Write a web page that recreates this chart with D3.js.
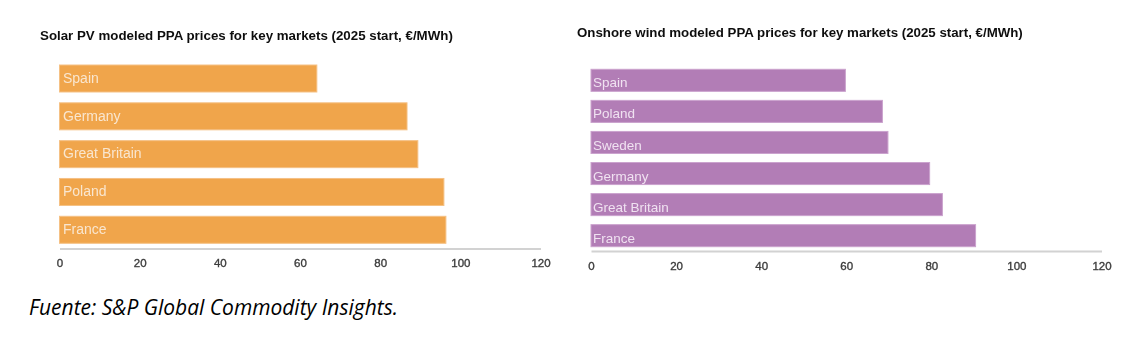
<!DOCTYPE html>
<html>
<head>
<meta charset="utf-8">
<script src="https://cdn.jsdelivr.net/npm/d3@7"></script>
<style>
  html, body { margin: 0; padding: 0; background: #fff; }
  svg { display: block; }
</style>
</head>
<body>
<svg id="chart" width="1148" height="350"></svg>
<script>
// Modeled PPA prices, 2025 start, €/MWh
const solarMarkets = ["Spain", "Germany", "Great Britain", "Poland", "France"];
const solarPrices  = [64.2, 86.7, 89.4, 95.9, 96.4];

const windMarkets = ["Spain", "Poland", "Sweden", "Germany", "Great Britain", "France"];
const windPrices  = [59.8, 68.5, 69.8, 79.6, 82.6, 90.4];

const xTicks = [0, 20, 40, 60, 80, 100, 120];

const solarTitle = "Solar PV modeled PPA prices for key markets (2025 start, €/MWh)";
const windTitle  = "Onshore wind modeled PPA prices for key markets (2025 start, €/MWh)";
const sourceNote = "Fuente: S&P Global Commodity Insights.";

const svg = d3.select("#chart");

// soft focus applied to the chart panels
const defs = svg.append("defs");
defs.append("filter").attr("id", "soft")
  .attr("x", "-5%").attr("y", "-5%").attr("width", "110%").attr("height", "110%")
  .append("feGaussianBlur").attr("stdDeviation", 0.6);

// set a text's font size so it spans the given width
function fitWidth(sel, width) {
  const node = sel.node();
  const base = parseFloat(sel.attr("font-size"));
  const w = node.getComputedTextLength();
  sel.attr("font-size", (base * width / w).toFixed(2));
}

function drawPanel(cfg) {
  const g = svg.append("g").attr("filter", "url(#soft)");

  const x = d3.scaleLinear().domain([0, 120]).range(cfg.xRange);
  const y = d3.scaleBand()
    .domain(cfg.markets)
    .range(cfg.yRange)
    .paddingInner(cfg.padInner)
    .paddingOuter(0);

  const rows = cfg.markets.map((m, i) => ({ market: m, value: cfg.values[i] }));

  // title
  const t = g.append("text")
    .attr("x", cfg.titleX)
    .attr("y", cfg.titleY)
    .attr("dominant-baseline", "middle")
    .attr("font-family", "Liberation Sans, Arial, sans-serif")
    .attr("font-weight", "bold")
    .attr("font-size", 12.5)
    .attr("fill", "#111")
    .text(cfg.title);
  fitWidth(t, cfg.titleWidth);

  // bars
  g.selectAll("rect.bar").data(rows).join("rect")
    .attr("class", "bar")
    .attr("x", x(0))
    .attr("y", d => y(d.market))
    .attr("width", d => x(d.value) - x(0))
    .attr("height", y.bandwidth())
    .attr("fill", cfg.color)
    .attr("stroke", cfg.rim)
    .attr("stroke-width", 1);

  // category labels inside the bars
  g.selectAll("text.cat").data(rows).join("text")
    .attr("class", "cat")
    .attr("x", x(0) + cfg.labelDx)
    .attr("y", d => y(d.market) + y.bandwidth() / 2 + cfg.labelDy)
    .attr("dominant-baseline", "middle")
    .attr("font-family", "Liberation Sans, Arial, sans-serif")
    .attr("font-size", cfg.labelSize)
    .attr("fill", cfg.labelColor)
    .text(d => d.market);

  // baseline axis
  const axis = d3.axisBottom(x).tickValues(xTicks).tickSize(0).tickPadding(0).tickFormat(d3.format("d"));
  const ax = g.append("g")
    .attr("transform", `translate(0,${cfg.axisY})`)
    .call(axis);
  ax.select(".domain")
    .attr("stroke", "#d2d2d2")
    .attr("stroke-width", 2);
  ax.selectAll(".tick text")
    .attr("y", cfg.tickDy)
    .attr("dy", null)
    .attr("dominant-baseline", "middle")
    .attr("font-family", "Liberation Sans, Arial, sans-serif")
    .attr("font-size", 11.5)
    .attr("fill", "#3c3c3c")
    .attr("stroke", "#3c3c3c")
    .attr("stroke-width", 0.35);
}

drawPanel({
  title: solarTitle, titleX: 40, titleY: 36, titleWidth: 413,
  markets: solarMarkets, values: solarPrices,
  xRange: [59.5, 540.5], yRange: [65, 243.3], padInner: 0.286,
  axisY: 248.5, tickDy: 15.5,
  color: "#F0A54B", rim: "#F5C185",
  labelDx: 3.5, labelDy: 0.5, labelSize: 14, labelColor: "#F9E6CF"
});

drawPanel({
  title: windTitle, titleX: 577, titleY: 33.5, titleWidth: 446,
  markets: windMarkets, values: windPrices,
  xRange: [591, 1101.5], yRange: [69.3, 246.7], padInner: 0.29,
  axisY: 251, tickDy: 15.5,
  color: "#B27DB6", rim: "#CBA3CE",
  labelDx: 2, labelDy: 3.5, labelSize: 13.5, labelColor: "#F0E2F1"
});

// source note
const note = svg.append("text")
  .attr("x", 29)
  .attr("y", 309)
  .attr("dominant-baseline", "middle")
  .attr("font-family", "Open Sans, Noto Sans, sans-serif")
  .attr("font-style", "italic")
  .attr("font-size", 16)
  .attr("fill", "#000")
  .text(sourceNote);
fitWidth(note, 369);
</script>
</body>
</html>
